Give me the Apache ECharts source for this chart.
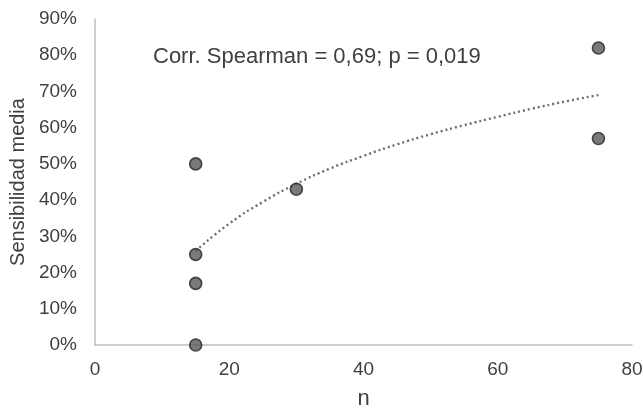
<!DOCTYPE html>
<html lang="es">
<head>
    <meta charset="UTF-8">
    <title>Sensibilidad media vs n</title>
    <script src="https://cdn.jsdelivr.net/npm/echarts@6/dist/echarts.min.js"></script>
</head>
<body style="margin:0;">
    <div id="main" style="width:643px;height:411px;"></div>
    <script type="text/javascript">
       // datos
       var nValues = [15, 15, 15, 15, 30, 75, 75];
       var sensValues = [0, 0.17, 0.25, 0.50, 0.43, 0.57, 0.82];

       // linea de tendencia (logaritmica)
       var trendX = [15, 20, 25, 30, 35, 40, 45, 50, 55, 60, 65, 70, 75];
       var trendY = [0.26, 0.335, 0.395, 0.445, 0.487, 0.522, 0.554, 0.582, 0.607, 0.630, 0.652, 0.672, 0.69];

       var xTicks = [0, 20, 40, 60, 80];

       var points = [];
       for (var i in nValues) {
           points.push([nValues[i], sensValues[i]]);
       }
       var trend = [];
       for (var j in trendX) {
           trend.push([trendX[j], trendY[j]]);
       }

       var myChart = echarts.init(document.getElementById("main"));

       var font = 'Liberation Sans, Arial, sans-serif';

       var option = {
           animation: false,
           backgroundColor: '#ffffff',
           textStyle: { fontFamily: font },
           grid: { left: 95, right: 11, top: 19, bottom: 66, outerBoundsMode: 'none', containLabel: false },
           graphic: [{
               type: 'text',
               left: 153,
               top: 46,
               style: {
                   text: 'Corr. Spearman = 0,69; p = 0,019',
                   fontSize: 22,
                   fontFamily: font,
                   fill: '#404040'
               }
           }],
           xAxis: {
               type: 'value',
               min: xTicks[0],
               max: xTicks[xTicks.length - 1],
               interval: 20,
               name: 'n',
               nameLocation: 'middle',
               nameGap: 43,
               nameTextStyle: { fontSize: 22, color: '#404040', fontFamily: font },
               axisLine: { lineStyle: { color: '#bfbfbf', width: 1.5 } },
               axisTick: { show: false },
               splitLine: { show: false },
               axisLabel: { fontSize: 19, color: '#404040', margin: 15 }
           },
           yAxis: {
               type: 'value',
               min: 0,
               max: 0.9,
               interval: 0.1,
               name: 'Sensibilidad media',
               nameLocation: 'middle',
               nameGap: 65,
               nameTextStyle: { fontSize: 20, color: '#404040', fontFamily: font },
               axisLine: { show: true, lineStyle: { color: '#bfbfbf', width: 1.5 } },
               axisTick: { show: false },
               splitLine: { show: false },
               axisLabel: {
                   fontSize: 19,
                   color: '#404040',
                   margin: 18,
                   formatter: function (v) { return Math.round(v * 100) + '%'; }
               }
           },
           series: [{
               type: 'line',
               data: trend,
               smooth: true,
               showSymbol: false,
               lineStyle: { type: [2, 3], color: '#6e6e6e', width: 2.4 },
               z: 1
           }, {
               type: 'scatter',
               data: points,
               symbolSize: 12,
               itemStyle: { color: '#595959', borderColor: '#262626', borderWidth: 1.6 },
               z: 2
           }]
       };

       myChart.setOption(option);
    </script>
</body>
</html>
